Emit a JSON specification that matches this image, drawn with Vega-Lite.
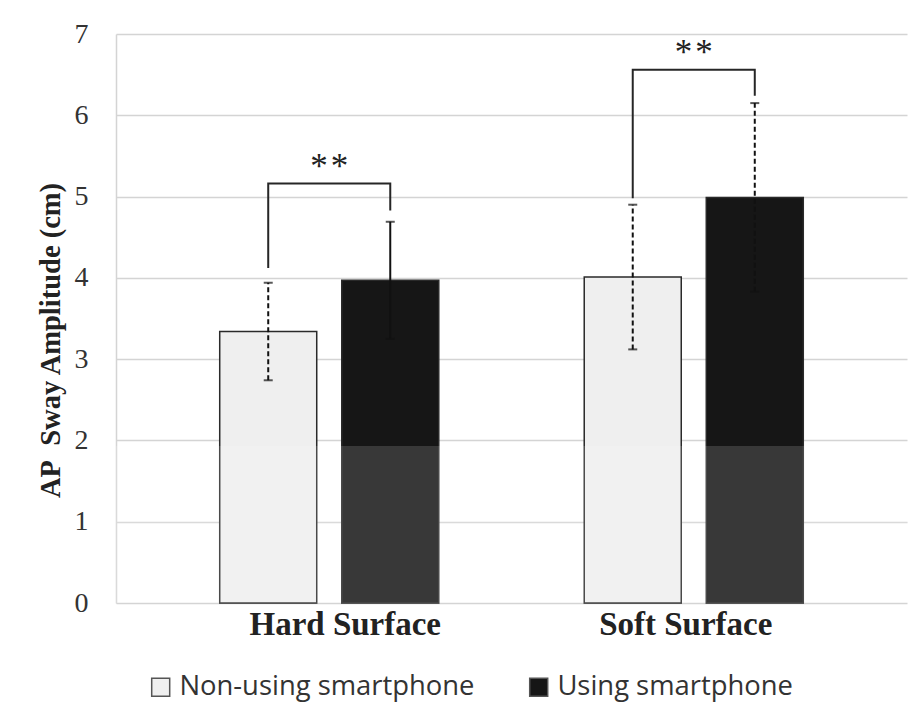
{
  "$schema": "https://vega.github.io/schema/vega-lite/v6.json",
  "width": 791,
  "height": 569,
  "autosize": {"type": "none"},
  "padding": {"left": 116, "top": 34, "right": 7, "bottom": 110},
  "background": "white",
  "datasets": {
    "sway": [
      {"surface": "Hard Surface", "group": "Non-using smartphone", "mean": 3.34, "lo": 2.74, "hi": 3.94, "line": "dashed"},
      {"surface": "Hard Surface", "group": "Using smartphone", "mean": 3.97, "lo": 3.25, "hi": 4.69, "line": "solid"},
      {"surface": "Soft Surface", "group": "Non-using smartphone", "mean": 4.01, "lo": 3.12, "hi": 4.90, "line": "dashed"},
      {"surface": "Soft Surface", "group": "Using smartphone", "mean": 4.99, "lo": 3.83, "hi": 6.15, "line": "dashed"}
    ],
    "brackets": [
      {"surface": "Hard Surface", "group": "Non-using smartphone", "y": 4.12, "ord": 1},
      {"surface": "Hard Surface", "group": "Non-using smartphone", "y": 5.16, "ord": 2},
      {"surface": "Hard Surface", "group": "Using smartphone", "y": 5.16, "ord": 3},
      {"surface": "Hard Surface", "group": "Using smartphone", "y": 4.83, "ord": 4},
      {"surface": "Soft Surface", "group": "Non-using smartphone", "y": 4.98, "ord": 1},
      {"surface": "Soft Surface", "group": "Non-using smartphone", "y": 6.56, "ord": 2},
      {"surface": "Soft Surface", "group": "Using smartphone", "y": 6.56, "ord": 3},
      {"surface": "Soft Surface", "group": "Using smartphone", "y": 6.24, "ord": 4}
    ],
    "stars": [
      {"surface": "Hard Surface", "y": 5.16, "label": "*\u200a*"},
      {"surface": "Soft Surface", "y": 6.56, "label": "*\u200a*"}
    ]
  },
  "config": {
    "view": {"stroke": null},
    "axis": {"labelColor": "#333333", "titleColor": "#222222"}
  },
  "layer": [
    {
      "data": {"name": "sway"},
      "mark": {"type": "bar", "stroke": "#2a2a2a", "strokeWidth": 1.5},
      "encoding": {
        "x": {
          "field": "surface", "type": "nominal",
          "scale": {"paddingInner": 0, "paddingOuter": 0.085},
          "axis": {
            "title": null, "labelAngle": 0, "domain": false, "ticks": false,
            "labelFont": "Liberation Serif", "labelFontSize": 33, "labelFontWeight": "bold",
            "labelColor": "#222222", "labelPadding": 5, "labelLimit": 400,
            "labelOffset": {"expr": "datum.value == 'Hard Surface' ? 16 : -8"}
          }
        },
        "xOffset": {
          "field": "group", "type": "nominal",
          "scale": {"paddingInner": 0.205, "paddingOuter": 0.596}
        },
        "y": {
          "field": "mean", "type": "quantitative",
          "scale": {"domain": [0, 7], "nice": false},
          "axis": {
            "title": "AP\u00a0 Sway Amplitude (cm)", "values": [0, 1, 2, 3, 4, 5, 6, 7], "format": "d",
            "ticks": false, "domainColor": "#d4d4d4", "domainWidth": 1.5,
            "gridColor": "#d4d4d4", "gridWidth": 1.5,
            "labelFont": "Liberation Serif", "labelFontSize": 28, "labelPadding": 28,
            "titleFont": "Liberation Serif", "titleFontSize": 28.5, "titleFontWeight": "bold",
            "titleAngle": -90, "titleAlign": "center", "titleBaseline": "middle",
            "titleX": -66, "titleY": 306
          }
        },
        "fill": {
          "field": "group", "type": "nominal",
          "scale": {"domain": ["Non-using smartphone", "Using smartphone"], "range": ["#efefef", "#161616"]},
          "legend": {
            "title": null, "orient": "none", "direction": "horizontal",
            "legendX": 31, "legendY": 639,
            "symbolType": "square", "symbolSize": 324,
            "symbolStrokeColor": "#555555", "symbolStrokeWidth": 1.5,
            "labelFont": "Open Sans", "labelFontSize": 27.4, "labelColor": "#333333",
            "labelLimit": 500, "labelOffset": 5, "columnPadding": 50
          }
        }
      }
    },
    {
      "data": {"name": "sway"},
      "mark": {"type": "rule", "color": "#111111", "strokeWidth": 2},
      "encoding": {
        "x": {"field": "surface", "type": "nominal"},
        "xOffset": {"field": "group", "type": "nominal"},
        "y": {"field": "lo", "type": "quantitative"},
        "y2": {"field": "hi"},
        "strokeDash": {
          "field": "line", "type": "nominal",
          "scale": {"domain": ["dashed", "solid"], "range": [[5, 3], [1, 0]]},
          "legend": null
        }
      }
    },
    {
      "data": {"name": "sway"},
      "mark": {"type": "tick", "color": "#111111", "thickness": 2, "size": 9},
      "encoding": {
        "x": {"field": "surface", "type": "nominal"},
        "xOffset": {"field": "group", "type": "nominal"},
        "y": {"field": "hi", "type": "quantitative"}
      }
    },
    {
      "data": {"name": "sway"},
      "mark": {"type": "tick", "color": "#111111", "thickness": 2, "size": 9},
      "encoding": {
        "x": {"field": "surface", "type": "nominal"},
        "xOffset": {"field": "group", "type": "nominal"},
        "y": {"field": "lo", "type": "quantitative"}
      }
    },
    {
      "data": {"name": "brackets"},
      "mark": {"type": "line", "color": "#262626", "strokeWidth": 2, "interpolate": "linear"},
      "encoding": {
        "x": {"field": "surface", "type": "nominal"},
        "xOffset": {"field": "group", "type": "nominal"},
        "y": {"field": "y", "type": "quantitative"},
        "detail": {"field": "surface"},
        "order": {"field": "ord", "type": "quantitative"}
      }
    },
    {
      "data": {"name": "stars"},
      "mark": {"type": "text", "font": "Liberation Serif", "fontSize": 35, "color": "#222222", "baseline": "alphabetic", "dy": -6},
      "encoding": {
        "x": {"field": "surface", "type": "nominal"},
        "y": {"field": "y", "type": "quantitative"},
        "text": {"field": "label"}
      }
    },
    {
      "data": {"values": [{}]},
      "mark": {"type": "rect", "fill": "white", "opacity": 0.15},
      "encoding": {
        "x": {"value": 0},
        "x2": {"value": "width"},
        "y": {"datum": 0, "type": "quantitative"},
        "y2": {"datum": 1.93}
      }
    }
  ]
}
